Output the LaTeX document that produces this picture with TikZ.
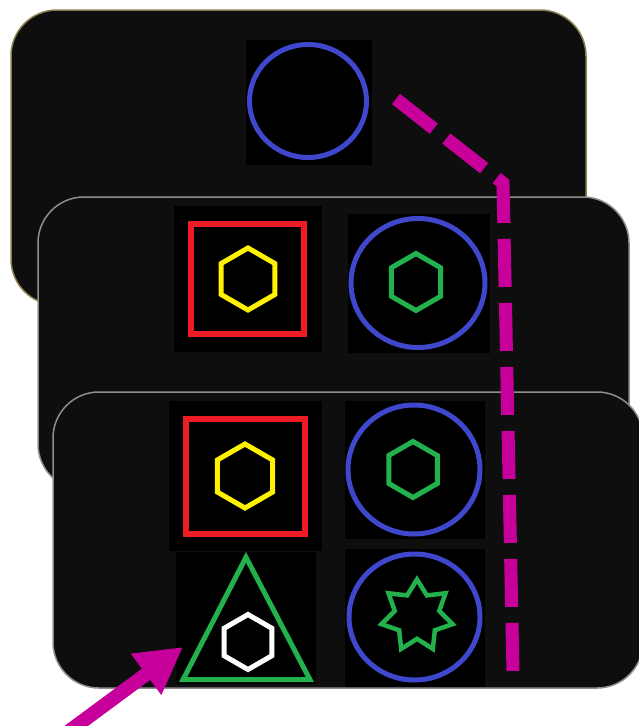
\documentclass[tikz,border=0pt]{standalone}
\usetikzlibrary{arrows.meta,positioning,shapes.geometric,shapes.misc,calc}
\definecolor{cardFill}{HTML}{0E0E0E}
\definecolor{cardGold}{HTML}{8C7F4F}
\definecolor{cardGray}{HTML}{8E8E8E}
\definecolor{shBlue}{HTML}{3F48CC}
\definecolor{shRed}{HTML}{ED1C24}
\definecolor{shYellow}{HTML}{FFF200}
\definecolor{shGreen}{HTML}{22B14C}
\definecolor{linkMagenta}{HTML}{C8009B}

\begin{document}
\begin{tikzpicture}[x=1pt,y=-1pt,
  card/.style={fill=cardFill, draw=cardGray, line width=1.5pt, rounded corners=46pt},
  panel/.style={fill=black, inner sep=0pt},
  ring/.style={ellipse, draw=shBlue, line width=5pt, inner sep=0pt},
  hexa/.style={regular polygon, regular polygon sides=6, shape border rotate=30,
    draw, line width=5pt, inner sep=0pt},
  boxframe/.style={draw=shRed, line width=6pt, inner sep=0pt},
  link/.style={linkMagenta, line width=13pt, dash pattern=on 48pt off 16pt}
]
  \useasboundingbox (0,0) rectangle (638,726);

  % back card
  \draw[card, draw=cardGold] (11,10) rectangle (586,305);
  \node[panel, minimum width=126pt, minimum height=125pt] (p1) at (309,102) {};
  \node[ring, minimum width=117pt, minimum height=113pt] (c1) at (308,101) {};

  % middle card
  \draw[card] (38,197) rectangle (629,490);
  \node[panel, minimum width=148pt, minimum height=146pt] (p2a) at (248,279) {};
  \node[boxframe, minimum width=113pt, minimum height=110pt] (sq2) at (247.5,279) {};
  \node[hexa, shYellow, minimum size=62pt] (hx2a) at (248,279) {};
  \node[panel, minimum width=142pt, minimum height=139pt] (p2b) at (419,283) {};
  \node[ring, minimum width=134pt, minimum height=129pt] (c2) at (418,283) {};
  \node[hexa, shGreen, minimum size=57pt] (hx2b) at (416,282) {};

  % front card
  \draw[card] (53,392) rectangle (643,688);
  \node[panel, minimum width=153pt, minimum height=150pt] (p3a) at (245.5,476) {};
  \node[boxframe, minimum width=119pt, minimum height=115pt] (sq3) at (245.5,476.5) {};
  \node[hexa, shYellow, minimum size=64pt] (hx3a) at (245,476) {};
  \node[panel, minimum width=140pt, minimum height=138pt] (p3b) at (415,470) {};
  \node[ring, minimum width=132pt, minimum height=129pt] (c3b) at (414,469.5) {};
  \node[hexa, shGreen, minimum size=56pt] (hx3b) at (413,469.5) {};
  \node[panel, minimum width=140pt, minimum height=132pt] (p3c) at (246,618) {};
  \draw[shGreen, line width=5pt, line join=miter]
    ($(p3c.north)+(0,5.5)$) coordinate (triTop)
    -- ($(p3c.south)+(-63,-4.5)$) coordinate (triLeft)
    -- ($(p3c.south)+(64,-4.5)$) coordinate (triRight) -- cycle;
  \node[hexa, white, minimum size=55pt] (hx3c) at (248,642) {};
  \node[panel, minimum width=140pt, minimum height=138pt] (p3d) at (415,618) {};
  \node[ring, minimum width=131pt, minimum height=126pt] (c3d) at (414.5,617) {};
  \node[star, star points=7, star point ratio=1.6, draw=shGreen, line width=4.5pt,
    inner sep=0pt, minimum size=73pt] (st) at (417,616) {};

  % magenta marks
  \coordinate (linkStart) at ($(c1.east)+(27,-2)$);
  \coordinate (linkBend) at (503,183);
  \coordinate (linkEnd) at (513,672);
  \draw[link] (linkStart) -- (linkBend) -- (linkEnd);

  \coordinate (pointerTail) at (68,732);
  \coordinate (pointerTip) at (183,647);
  \draw[linkMagenta, line width=14pt, -{Triangle[length=46pt,width=48pt]}]
    (pointerTail) -- (pointerTip);
\end{tikzpicture}
\end{document}
